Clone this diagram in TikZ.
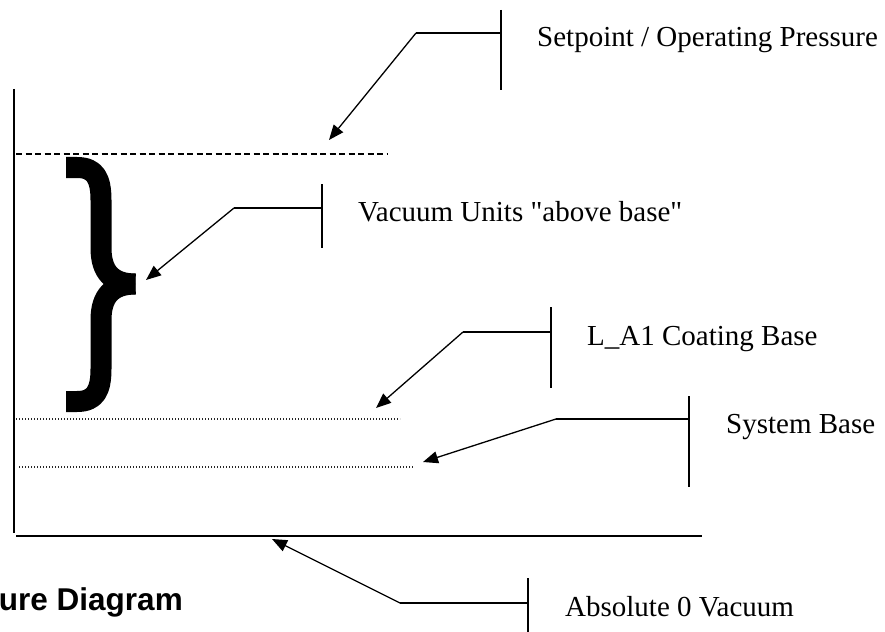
\documentclass[tikz,border=0pt]{standalone}
\usepackage{fontspec}
\setmainfont{Liberation Serif}[Ligatures=TeXOff]
\newfontfamily\labelsans{Liberation Sans}
\usetikzlibrary{arrows.meta}
\tikzset{
  lbl/.style={anchor=base west, inner sep=0pt, font=\fontsize{29}{34}\selectfont},
  bar/.style={line width=1.3pt},
  pointer/.style={line width=1.3pt, -{Triangle[length=15pt,width=12pt]}},
  axisline/.style={line width=1.3pt},
  dotline/.style={line width=1.2pt, dash pattern=on 1.2pt off 1.8pt, black!85},
  dashline/.style={line width=1.3pt, dash pattern=on 6pt off 3.5pt},
  bracestroke/.style={line width=21pt, line cap=butt, line join=round}
}
\begin{document}
\begin{tikzpicture}[x=1pt,y=-1pt]
\useasboundingbox (0,0) rectangle (885,631);

% axes
\coordinate (axtop) at (14,89);
\coordinate (axbot) at (14,533);
\coordinate (baseL) at (16,536);
\coordinate (baseR) at (702,536);
\draw[axisline] (axtop) -- (axbot);
\draw[line width=2pt] (baseL) -- (baseR);

% level lines
\coordinate (setL) at (16,154);
\coordinate (setR) at (388,154);
\draw[dashline] (setL) -- (setR);
\coordinate (coatL) at (16,419);
\coordinate (coatR) at (400,419);
\draw[dotline] (coatL) -- (coatR);
\coordinate (sysL) at (19,467);
\coordinate (sysR) at (414,467);
\draw[dotline] (sysL) -- (sysR);

% brace
\draw[bracestroke] (66,167.5) -- (77,167.5) .. controls (95,167.5) and (101,178) .. (101,200) -- (101,248) .. controls (101,272) and (112,284) .. (135.5,284);
\draw[bracestroke] (66,401.5) -- (77,401.5) .. controls (95,401.5) and (101,391) .. (101,369) -- (101,320) .. controls (101,296) and (112,284) .. (135.5,284);

% callout: setpoint
\coordinate (c1t) at (501,10);
\coordinate (c1b) at (501,90);
\coordinate (c1j) at (501,33);
\coordinate (c1e) at (416,33);
\coordinate (c1a) at (329,140);
\draw[bar] (c1t) -- (c1b);
\draw[bar] (c1j) -- (c1e);
\draw[pointer] (c1e) -- (c1a);
\node[lbl] (l1) at (537,47) {Setpoint / Operating Pressure};

% callout: vacuum units
\coordinate (c2t) at (322,184);
\coordinate (c2b) at (322,248);
\coordinate (c2j) at (322,208);
\coordinate (c2e) at (234,208);
\coordinate (c2a) at (146,280);
\draw[bar] (c2t) -- (c2b);
\draw[bar] (c2j) -- (c2e);
\draw[pointer] (c2e) -- (c2a);
\node[lbl] (l2) at (358,221) {Vacuum Units "above base"};

% callout: coating base
\coordinate (c3t) at (551,307);
\coordinate (c3b) at (551,388);
\coordinate (c3j) at (551,332);
\coordinate (c3e) at (463,332);
\coordinate (c3a) at (376,408);
\draw[bar] (c3t) -- (c3b);
\draw[bar] (c3j) -- (c3e);
\draw[pointer] (c3e) -- (c3a);
\node[lbl] (l3) at (587,345) {L\_A1 Coating Base};

% callout: system base
\coordinate (c4t) at (689,396);
\coordinate (c4b) at (689,487);
\coordinate (c4j) at (689,419);
\coordinate (c4e) at (556,419);
\coordinate (c4a) at (423,462);
\draw[bar] (c4t) -- (c4b);
\draw[bar] (c4j) -- (c4e);
\draw[pointer] (c4e) -- (c4a);
\node[lbl] (l4) at (726,433) {System Base};

% callout: absolute zero
\coordinate (c5t) at (528,578);
\coordinate (c5b) at (528,640);
\coordinate (c5j) at (528,603);
\coordinate (c5e) at (400,603);
\coordinate (c5a) at (272,539);
\draw[bar] (c5t) -- (c5b);
\draw[bar] (c5j) -- (c5e);
\draw[pointer] (c5e) -- (c5a);
\node[lbl] (l5) at (565,616) {Absolute 0 Vacuum};

% title fragment
\node[anchor=base east, inner sep=0pt, font=\labelsans\bfseries\fontsize{31.5}{36}\selectfont] (title) at (183,610) {ure Diagram};
\end{tikzpicture}
\end{document}
